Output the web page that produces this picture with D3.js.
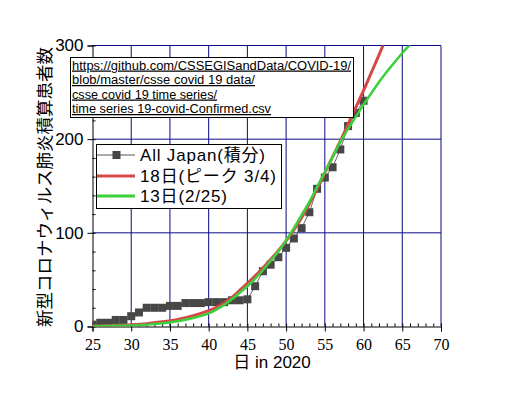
<!DOCTYPE html>
<html><head><meta charset="utf-8">
<script src="https://cdn.jsdelivr.net/npm/d3@7"></script>
<style>
html,body{margin:0;padding:0;background:#fff;}
svg{display:block;}
</style></head>
<body>
<svg id="chart" width="515" height="394"></svg>
<script>
// ---- data ----
const obsDays = [25,26,27,28,29,30,31,32,33,34,35,36,37,38,39,40,41,42,43,44,45,46,47,48,49,50,51,52,53,54,55,56,57,58,59,60];
const allJapan = [2,4,4,7,7,11,15,20,20,20,22,22,25,25,25,26,26,26,28,28,29,43,59,66,74,84,94,105,122,147,159,170,189,214,228,241];
const fitDays = [25,28,30,32,34,36,38,40,41,42,43,44,45,46,47,48,49,50,51,52,53,54,55,56,57,58,59,60,61,62,63,64,65,66];
const fit18 = [0.5,1,1.8,3,5,7.5,11.5,17,20.5,25,31,38.5,46,54,62.5,71.5,81,91.5,103,116,131,147,164,181,198,216,234,252,271,290,310,330,351,372];
const fit13 = [0.3,0.7,1,2,3.5,5.5,9,14,18,23,29,36,43,51,60,70,80,92,105,119,133,149,165,181,197,211,224,237,249,261,272,282,292,301];
const seriesNames = ["All Japan(積分)", "18日(ピーク 3/4)", "13日(2/25)"];
const xTickLabels = [25,30,35,40,45,50,55,60,65,70];
const yTickLabels = [0,100,200,300];
const xDomain = [25,70];
const yDomain = [0,300];
const yTitle = "新型コロナウィルス肺炎積算患者数";
const xTitle = "日 in 2020";
const urlLines = ["https://github.com/CSSEGISandData/COVID-19/",
                  "blob/master/csse covid 19 data/",
                  "csse covid 19 time series/",
                  "time series 19-covid-Confirmed.csv"];

// ---- layout ----
const svg = d3.select("#chart");
svg.append("rect").attr("width",515).attr("height",394).attr("fill","#fff");
const x = d3.scaleLinear().domain(xDomain).range([92.5, 441]);
const y = d3.scaleLinear().domain(yDomain).range([326.5, 45.5]);
const navy = "#0a0a85";

svg.append("defs").append("clipPath").attr("id","clip")
  .append("rect").attr("x",x(25)).attr("y",y(300)).attr("width",x(70)-x(25)).attr("height",y(0)-y(300));

// grid
const grid = svg.append("g");
grid.selectAll("line.v").data(xTickLabels.slice(1)).join("line")
  .attr("x1",d=>x(d)).attr("x2",d=>x(d)).attr("y1",y(300)).attr("y2",y(0))
  .attr("stroke",navy).attr("stroke-width",1);
grid.selectAll("line.h").data(yTickLabels.slice(1)).join("line")
  .attr("x1",x(25)).attr("x2",x(70)).attr("y1",d=>y(d)).attr("y2",d=>y(d))
  .attr("stroke",navy).attr("stroke-width",1);

// axes
const gx = svg.append("g").attr("transform",`translate(0,${y(0)})`)
  .call(d3.axisBottom(x).tickValues(xTickLabels).tickSize(5).tickPadding(7))
  .call(g=>g.select(".domain").attr("stroke","#000"));
gx.selectAll("text").attr("font-family","'Liberation Serif', serif").attr("font-size","16px").attr("fill","#000");
gx.selectAll("line").attr("stroke","#000");
svg.append("g").attr("transform",`translate(0,${y(0)})`)
  .call(d3.axisTop(x).ticks(45).tickSize(3).tickFormat(""))
  .call(g=>g.select(".domain").remove())
  .selectAll("line").attr("stroke","#000");

const gy = svg.append("g").attr("transform",`translate(${x(25)},0)`)
  .call(d3.axisLeft(y).tickValues(yTickLabels).tickSize(5).tickPadding(4))
  .call(g=>g.select(".domain").attr("stroke","#000"));
gy.selectAll("text").attr("font-family","'Liberation Sans', Arial, sans-serif").attr("font-size","17px").attr("fill","#000");
gy.selectAll("line").attr("stroke","#000");
svg.append("g").attr("transform",`translate(${x(25)},0)`)
  .call(d3.axisRight(y).ticks(15).tickSize(3).tickFormat(""))
  .call(g=>g.select(".domain").remove())
  .selectAll("line").attr("stroke","#000");

// data
const plot = svg.append("g").attr("clip-path","url(#clip)");
const obs = obsDays.map((d,i)=>[d, allJapan[i]]);
plot.append("path").datum(obs)
  .attr("d", d3.line().x(d=>x(d[0])).y(d=>y(d[1])))
  .attr("fill","none").attr("stroke","#666").attr("stroke-width",1);
plot.selectAll("rect.m").data(obs).join("rect")
  .attr("x",d=>x(d[0])-4).attr("y",d=>y(d[1])-4).attr("width",8).attr("height",8)
  .attr("fill","#474747");

const fitLine = d3.line().x(d=>x(d[0])).y(d=>y(d[1])).curve(d3.curveMonotoneX);
plot.append("path").datum(fitDays.map((d,i)=>[d, fit18[i]]))
  .attr("d", fitLine).attr("fill","none").attr("stroke","#d64848").attr("stroke-width",3);
plot.append("path").datum(fitDays.map((d,i)=>[d, fit13[i]]))
  .attr("d", fitLine).attr("fill","none").attr("stroke","#3ad03a").attr("stroke-width",2.5);

// url box
svg.append("rect").attr("x",70.5).attr("y",57.5).attr("width",283).attr("height",60)
  .attr("fill","#fff").attr("stroke","#000").attr("stroke-width",1);
const urlWidths = [279,183,145,199];
svg.selectAll("text.url").data(urlLines).join("text")
  .attr("x",72).attr("y",(d,i)=>69.5+i*14.5)
  .attr("textLength",(d,i)=>urlWidths[i]).attr("lengthAdjust","spacingAndGlyphs")
  .attr("font-family","'Liberation Sans', Arial, sans-serif").attr("font-size","12.5px")
  .attr("text-decoration","underline").attr("fill","#000")
  .text(d=>d);

// legend
const lg = svg.append("g");
lg.append("rect").attr("x",96.5).attr("y",144.5).attr("width",185).attr("height",64)
  .attr("fill","#fff").attr("stroke","#000").attr("stroke-width",1);
const rowsY = [155,176,196];
const legendWidths = [125,136,87];
lg.append("line").attr("x1",97).attr("x2",135).attr("y1",rowsY[0]).attr("y2",rowsY[0]).attr("stroke","#555").attr("stroke-width",1);
lg.append("rect").attr("x",112.5).attr("y",rowsY[0]-4).attr("width",8).attr("height",8).attr("fill","#474747");
lg.append("line").attr("x1",97).attr("x2",135).attr("y1",rowsY[1]).attr("y2",rowsY[1]).attr("stroke","#d64848").attr("stroke-width",3);
lg.append("line").attr("x1",97).attr("x2",135).attr("y1",rowsY[2]).attr("y2",rowsY[2]).attr("stroke","#3ad03a").attr("stroke-width",3);
lg.selectAll("text").data(seriesNames).join("text")
  .attr("x",140).attr("y",(d,i)=>rowsY[i]+6)
  .attr("textLength",(d,i)=>legendWidths[i]).attr("lengthAdjust","spacing")
  .attr("font-family","'Liberation Sans', 'Noto Sans CJK JP', sans-serif").attr("font-size","17px").attr("fill","#000")
  .text(d=>d);

// titles
svg.append("text").attr("transform","translate(43,187) rotate(-90)")
  .attr("text-anchor","middle").attr("dominant-baseline","central")
  .attr("font-family","'Noto Sans CJK JP', sans-serif").attr("font-size","17.5px").attr("fill","#000")
  .text(yTitle);
svg.append("text").attr("x",272).attr("y",368).attr("text-anchor","middle")
  .attr("font-family","'Liberation Sans', 'Noto Sans CJK JP', sans-serif").attr("font-size","17px").attr("fill","#000")
  .text(xTitle);
</script>
</body></html>
